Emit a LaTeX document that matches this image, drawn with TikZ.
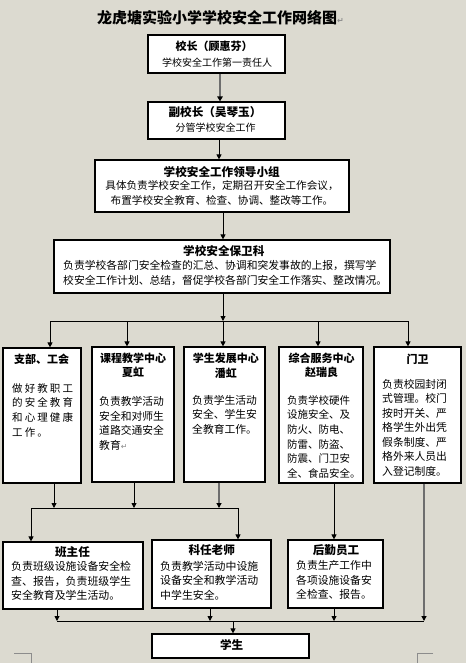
\documentclass[tikz,border=0pt]{standalone}
\usepackage{fontspec}
\setmainfont{Noto Sans CJK SC}
\newfontfamily\widecjk[LetterSpace=20]{Noto Sans CJK SC}
\newfontfamily\symfont{DejaVu Sans}
\usetikzlibrary{arrows.meta,positioning}

\definecolor{pagebg}{RGB}{220,218,208}
\definecolor{wiregray}{RGB}{110,110,110}
\definecolor{markgray}{RGB}{140,140,140}
\newcommand{\parmark}{{\symfont\color{markgray}\fontsize{8}{8}\selectfont ↵}}

\begin{document}
\begin{tikzpicture}[x=1pt,y=-1pt,>={Triangle[length=5pt,width=5pt]},
    box/.style={draw,fill=white,line width=1.2pt,inner sep=0pt},
    hd/.style={font=\fontsize{11.6}{14.5}\selectfont\bfseries,inner sep=0pt,align=center},
    sub/.style={font=\fontsize{11}{14.5}\selectfont\bfseries,inner sep=0pt,align=center},
    txt/.style={font=\fontsize{10.8}{14.6}\selectfont,inner sep=0pt,align=left,anchor=west},
    ctxt/.style={font=\fontsize{10.6}{15.7}\selectfont,inner sep=0pt,align=center},
    wire/.style={line width=0.9pt},
    gwire/.style={line width=1.1pt,draw=wiregray,-{Triangle[length=5pt,width=5pt,color=black]}}]
\useasboundingbox[fill=pagebg] (0,0) rectangle (466,663);

% title
\node[font=\fontsize{15}{15}\selectfont\bfseries,anchor=west,inner sep=0pt] (title) at (97,18) {龙虎塘实验小学学校安全工作网络图\parmark};

% upper chain
\node[box,minimum width=137,minimum height=38] (xz) at (216.5,54) {};
\node[hd,font=\fontsize{11}{14}\selectfont\bfseries] (xzh) at (214,46.7) {校长（顾惠芬）};
\node[ctxt,font=\fontsize{10}{14}\selectfont] (xzb) at (217,62.3) {学校安全工作第一责任人};

\node[box,minimum width=137,minimum height=37] (fxz) at (216.5,120.5) {};
\node[hd] (fxzh) at (215,112.3) {副校长（吴琴玉）};
\node[ctxt,font=\fontsize{10}{14}\selectfont] (fxzb) at (215.5,127.7) {分管学校安全工作};

\node[box,minimum width=254,minimum height=52] (ldxz) at (222,186) {};
\node[hd] (ldxzh) at (221.7,171.7) {学校安全工作领导小组};
\node[ctxt] (ldxzb) at (222,192.9) {具体负责学校安全工作，定期召开安全工作会议，\\布置学校安全教育、检查、协调、整改等工作。};

\node[box,minimum width=336,minimum height=53] (bwk) at (222,266.5) {};
\node[hd] (bwkh) at (223.8,250.7) {学校安全保卫科};
\node[txt,font=\fontsize{10.8}{14.3}\selectfont] (bwkb) at (63,272.9) {负责学校各部门安全检查的汇总、协调和突发事故的上报，撰写学\\校安全工作计划、总结，督促学校各部门安全工作落实、整改情况。};

% departments
\node[box,minimum width=78,minimum height=135] (zb) at (42,415.5) {};
\node[sub] (zbh) at (41.7,359.3) {支部、工会};
\node[txt,font=\fontsize{10.5}{14.6}\selectfont\widecjk] (zbb) at (12,410.2) {做好教职工\\的安全教育\\和心理健康\\工作。};

\node[box,minimum width=82,minimum height=135] (kc) at (133,414.5) {};
\node[sub] (kch) at (133,365.5) {课程教学中心\\夏虹};
\node[txt] (kcb) at (99,423.3) {负责教学活动\\安全和对师生\\道路交通安全\\教育\parmark};

\node[box,minimum width=81,minimum height=135] (xs) at (224.5,414.5) {};
\node[sub] (xsh) at (225.8,365.8) {学生发展中心\\潘虹};
\node[txt] (xsb) at (192,414.7) {负责学生活动\\安全、学生安\\全教育工作。};

\node[box,minimum width=84,minimum height=136] (zh) at (321,415) {};
\node[sub] (zhh) at (321.7,365.3) {综合服务中心\\赵瑞良};
\node[txt,font=\fontsize{10.5}{14.66}\selectfont] (zhb) at (287,436.7) {负责学校硬件\\设施安全、及\\防火、防电、\\防雷、防盗、\\防震、门卫安\\全、食品安全。};

\node[box,minimum width=87,minimum height=136] (mw) at (417.5,415) {};
\node[sub] (mwh) at (417.7,359) {门卫};
\node[txt,font=\fontsize{10.8}{14.55}\selectfont] (mwb) at (382,427.7) {负责校园封闭\\式管理。校门\\按时开关、严\\格学生外出凭\\假条制度、严\\格外来人员出\\入登记制度。};

% staff
\node[box,minimum width=140,minimum height=67] (bzr) at (73,575.5) {};
\node[hd] (bzrh) at (72.5,551.7) {班主任};
\node[txt,font=\fontsize{10.9}{14.5}\selectfont] (bzrb) at (11,581.2) {负责班级设施设备安全检\\查、报告，负责班级学生\\安全教育及学生活动。};

\node[box,minimum width=119,minimum height=68] (kr) at (211.5,574) {};
\node[hd] (krh) at (211.7,550) {科任老师};
\node[txt,font=\fontsize{10.9}{14.5}\selectfont] (krb) at (160,580.5) {负责教学活动中设施\\设备安全和教学活动\\中学生安全。};

\node[box,minimum width=95,minimum height=68] (hq) at (335.5,574) {};
\node[hd] (hqh) at (336,550) {后勤员工};
\node[txt] (hqb) at (296,580.3) {负责生产工作中\\各项设施设备安\\全检查、报告。};

\node[box,minimum width=157,minimum height=24] (stu) at (230.5,646) {};
\node[hd] (stuh) at (231.7,645) {学生};

% chain arrows
\draw[line width=1.8pt,draw=wiregray,-{Triangle[length=5pt,width=5.5pt,color=black]}] ([xshift=3.5]xz.south) -- ([xshift=3.5]fxz.north);
\draw[wire,->] ([xshift=2.5]fxz.south) -- ([xshift=2.5]fxz.south |- ldxz.north);
\draw[wire,->] ([xshift=1]ldxz.south) -- ([xshift=1]bwk.north);

% bus to departments
\coordinate (s1) at (50,321);
\coordinate (s2) at (127,321);
\coordinate (s3) at (223,321);
\coordinate (s4) at (318,321);
\coordinate (s5) at (408,321);
\draw[wire,->] ([xshift=1]bwk.south) -- (s3);
\draw[wire] (s1) -- (s5);
\foreach \s/\b in {s1/zb,s2/kc,s3/xs,s4/zh,s5/mw}
  \draw[wire,->] (\s) -- (\s |- \b.north);

% bus to teachers
\coordinate (t1) at (31,508);
\coordinate (t2) at (54,508);
\coordinate (t3) at (134,508);
\coordinate (t4) at (219,508);
\coordinate (t5) at (238,508);
\draw[wire] (t1) -- (t5);
\draw[wire,->] (t2 |- zb.south) -- (t2);
\draw[wire,->] (t3 |- kc.south) -- (t3);
\draw[gwire] (t4 |- xs.south) -- (t4);
\draw[wire,->] (t1) -- (t1 |- bzr.north);
\draw[wire,->] (t5) -- (t5 |- kr.north);

% bus to students
\coordinate (u1) at (57,621);
\coordinate (u2) at (210,621);
\coordinate (u3) at (233,621);
\coordinate (u4) at (334,621);
\coordinate (u5) at (424,621);
\draw[wire,->] (u4 |- zh.south) -- (u4 |- hq.north);
\draw[wire] (u1) -- (u5);
\draw[wire,->] (u1 |- bzr.south) -- (u1);
\draw[wire,->] (u2 |- kr.south) -- (u2);
\draw[wire,->] (u4 |- hq.south) -- (u4);
\draw[gwire] (u5 |- mw.south) -- (u5);
\draw[wire,->] (u3) -- (u3 |- stu.north);

% page corner marks
\draw[markgray,line width=0.8pt] (14,653) -- (31,653) -- (31,663);
\draw[markgray,line width=0.8pt] (433,653) -- (417,653) -- (417,663);
\end{tikzpicture}
\end{document}
